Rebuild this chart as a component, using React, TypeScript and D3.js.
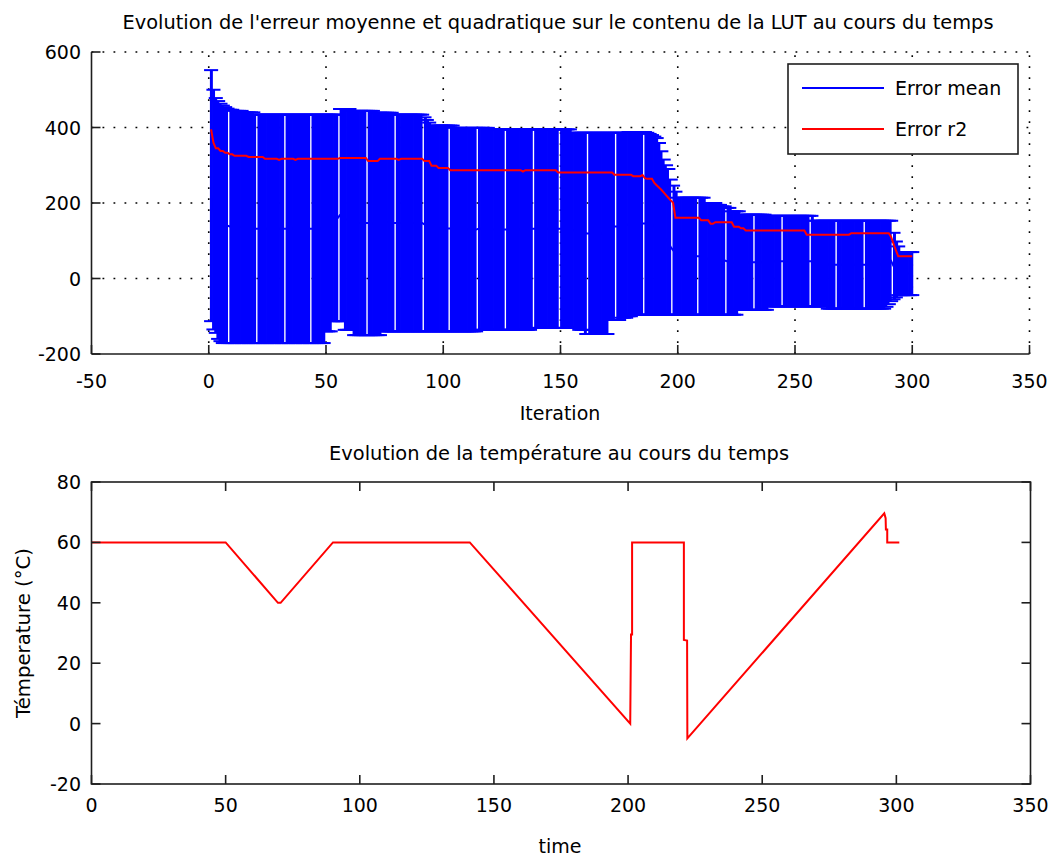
import React from 'react';
import * as d3 from 'd3';

// ---------- DATA ----------
// Error bars: [first iteration of run, value]; a value holds until the next run starts
const upperRuns: [number, number][] = [
  [1, 552], [2, 500], [3, 478], [4, 470], [5, 463], [6, 458], [7, 454], [8, 450], [9, 447],
  [11, 444], [15, 440], [20, 434], [56, 449], [61, 444], [71, 439], [79, 434], [92, 427],
  [93, 420], [94, 413], [95, 405], [105, 399], [120, 395], [155, 386], [179, 388], [187, 386],
  [188, 383], [189, 380], [190, 376], [191, 372], [192, 359], [193, 337], [194, 315], [195, 300],
  [196, 290], [197, 262], [198, 246], [199, 230], [200, 214], [212, 200], [217, 195], [219, 191],
  [221, 187], [223, 178], [227, 169], [238, 166], [258, 153], [292, 121], [293, 98], [294, 85],
  [295, 70],
];
const lowerRuns: [number, number][] = [
  [1, -113], [2, -135], [3, -144], [4, -160], [5, -166], [6, -171], [50, -140], [53, -113],
  [58, -136], [62, -150], [74, -140], [115, -136], [138, -131], [158, -136], [161, -147],
  [171, -110], [176, -104], [179, -100], [181, -96], [226, -83], [239, -74], [264, -80],
  [289, -75], [290, -68], [291, -60], [292, -55], [293, -50], [294, -44],
];
const r2Runs: [number, number][] = [
  [1, 395], [2, 360], [3, 345], [5, 338], [7, 333], [9, 329], [11, 325], [17, 322], [24, 317],
  [30, 314], [31, 317], [37, 314], [38, 317], [56, 319], [68, 311], [73, 317], [81, 314],
  [82, 317], [92, 311], [95, 299], [98, 293], [103, 287], [134, 283], [135, 287], [149, 281],
  [173, 275], [181, 271], [185, 274], [186, 266], [187, 264], [190, 253], [191, 247], [192, 241],
  [193, 235], [194, 228], [195, 221], [196, 214], [197, 207], [198, 201], [199, 161], [210, 154],
  [214, 145], [216, 149], [224, 137], [227, 133], [229, 127], [255, 116], [274, 120], [291, 110],
  [292, 92], [293, 75], [294, 59],
];
const iterationCount = 300;

const topXTicks = [-50, 0, 50, 100, 150, 200, 250, 300, 350];
const topYTicks = [-200, 0, 200, 400, 600];

// Temperature curve vertices
const timeValues = [0, 50, 69.5, 70.5, 90, 141, 200.8, 201.1, 201.5, 201.5, 220.8, 220.8, 222.0, 222.1,
  295.5, 296.0, 296.1, 296.6, 296.6, 301.1];
const temperatureValues = [60, 60, 40, 40, 60, 60, 0, 29.5, 29.5, 60, 60, 27.7, 27.5, -4.9,
  69.6, 68, 64.3, 64.3, 60, 60];
const bottomXTicks = [0, 50, 100, 150, 200, 250, 300, 350];
const bottomYTicks = [-20, 0, 20, 40, 60, 80];

const titleTop = "Evolution de l'erreur moyenne et quadratique sur le contenu de la LUT au cours du temps";
const titleBottom = 'Evolution de la température au cours du temps';

// ---------- helpers ----------
function expandRuns(runs: [number, number][], n: number): number[] {
  const out: number[] = [];
  let k = 0;
  for (let i = 1; i <= n; i++) {
    while (k + 1 < runs.length && runs[k + 1][0] <= i) k++;
    out.push(runs[k][1]);
  }
  return out;
}

const FONT = 'DejaVu Sans';
const FS = 19;
const AX = '#1e1e1e';

export default function App() {
  const iters = d3.range(1, iterationCount + 1);
  const upper = expandRuns(upperRuns, iterationCount);
  const lower = expandRuns(lowerRuns, iterationCount);
  const r2 = expandRuns(r2Runs, iterationCount);
  const mean = iters.map((_, i) => (upper[i] + lower[i]) / 2);

  // top axes
  const tL = 91.5, tR = 1029.5, tT = 52, tB = 354;
  const xT = d3.scaleLinear().domain([-50, 350]).range([tL, tR]);
  const yT = d3.scaleLinear().domain([-200, 600]).range([tB, tT]);

  // bottom axes
  const bL = 91.5, bR = 1030.5, bT = 482, bB = 784;
  const xB = d3.scaleLinear().domain([0, 350]).range([bL, bR]);
  const yB = d3.scaleLinear().domain([-20, 80]).range([bB, bT]);

  // raster emulation of the original (small) render: each bar occupies one source pixel column
  const P = 1.0848, PHI = 0.28;
  const capHalf = 3;

  const meanLine = d3.line<number>().x((_, i) => xT(iters[i])).y((d) => yT(d))(mean) || '';
  const r2Line = d3.line<number>().x((_, i) => xT(iters[i])).y((d) => yT(d))(r2) || '';
  const tempLine = d3.line<number>().x((_, i) => xB(timeValues[i])).y((d) => yB(d))(temperatureValues) || '';

  const tick = 9;

  return (
    <svg width={1051} height={858} style={{ position: 'absolute', left: 0, top: 0, background: '#fff' }}
      fontFamily={FONT} fontSize={FS}>
      <rect x={0} y={0} width={1051} height={858} fill="#fff" />
      {/* ---------- TOP PLOT ---------- */}
      <text x={558} y={29} textAnchor="middle" textLength={871} lengthAdjust="spacingAndGlyphs">{titleTop}</text>
      {/* grid */}
      <g stroke="#000" strokeWidth={1.6} strokeDasharray="1.8 9.2">
        {topXTicks.filter((t) => t !== -50).map((t) => (
          <line key={'gx' + t} x1={xT(t)} x2={xT(t)} y1={tB} y2={tT} />
        ))}
        {topYTicks.filter((t) => t !== -200).map((t) => (
          <line key={'gy' + t} x1={tL} x2={tR} y1={yT(t)} y2={yT(t)} />
        ))}
      </g>
      {/* error bars */}
      <g fill="#0000ff">
        {iters.map((it, i) => {
          const c = Math.floor(P * it + PHI);
          const x0 = xT((c - PHI) / P) - 0.4;
          const x1 = xT((c + 1 - PHI) / P) + 0.4;
          return <rect key={'b' + it} x={x0} width={x1 - x0} y={yT(upper[i])} height={yT(lower[i]) - yT(upper[i])} />;
        })}
      </g>
      <g stroke="#0000ff" strokeWidth={2}>
        {iters.map((it, i) => (
          <g key={'c' + it}>
            <line x1={xT(it - capHalf)} x2={xT(it + capHalf)} y1={yT(upper[i])} y2={yT(upper[i])} />
            <line x1={xT(it - capHalf)} x2={xT(it + capHalf)} y1={yT(lower[i])} y2={yT(lower[i])} />
          </g>
        ))}
      </g>
      <path d={meanLine} fill="none" stroke="#0000ff" strokeWidth={2} />
      <path d={r2Line} fill="none" stroke="#ff0000" strokeWidth={2} />
      {/* axes */}
      <g stroke={AX} strokeWidth={1.6} fill="none">
        <line x1={tL} x2={tL} y1={tT} y2={tB} />
        <line x1={tL} x2={tR} y1={tB} y2={tB} />
        {topXTicks.map((t) => <line key={'tx' + t} x1={xT(t)} x2={xT(t)} y1={tB} y2={tB - tick} />)}
        {topYTicks.map((t) => <line key={'ty' + t} x1={tL} x2={tL + tick} y1={yT(t)} y2={yT(t)} />)}
      </g>
      <g fill="#000">
        {topXTicks.map((t) => <text key={'lx' + t} x={xT(t)} y={388} textAnchor="middle">{t}</text>)}
        {topYTicks.map((t) => <text key={'ly' + t} x={81} y={yT(t) + 7} textAnchor="end">{t}</text>)}
      </g>
      <text x={560} y={420} textAnchor="middle">Iteration</text>
      {/* legend */}
      <rect x={788} y={64} width={230} height={90} fill="#fff" stroke={AX} strokeWidth={1.6} />
      <line x1={802} x2={884} y1={88} y2={88} stroke="#0000ff" strokeWidth={2} />
      <line x1={802} x2={884} y1={129} y2={129} stroke="#ff0000" strokeWidth={2} />
      <text x={895} y={95}>Error mean</text>
      <text x={895} y={136}>Error r2</text>

      {/* ---------- BOTTOM PLOT ---------- */}
      <text x={559} y={460} textAnchor="middle" textLength={460} lengthAdjust="spacingAndGlyphs">{titleBottom}</text>
      <path d={tempLine} fill="none" stroke="#ff0000" strokeWidth={2} />
      <g stroke={AX} strokeWidth={1.6} fill="none">
        <rect x={bL} y={bT} width={bR - bL} height={bB - bT} />
        {bottomXTicks.map((t) => (
          <g key={'bx' + t}>
            <line x1={xB(t)} x2={xB(t)} y1={bB} y2={bB - tick} />
            <line x1={xB(t)} x2={xB(t)} y1={bT} y2={bT + tick} />
          </g>
        ))}
        {bottomYTicks.map((t) => (
          <g key={'by' + t}>
            <line x1={bL} x2={bL + tick} y1={yB(t)} y2={yB(t)} />
            <line x1={bR} x2={bR - tick} y1={yB(t)} y2={yB(t)} />
          </g>
        ))}
      </g>
      <g fill="#000">
        {bottomXTicks.map((t) => <text key={'blx' + t} x={xB(t)} y={812} textAnchor="middle">{t}</text>)}
        {bottomYTicks.map((t) => <text key={'bly' + t} x={81} y={yB(t) + 7} textAnchor="end">{t}</text>)}
      </g>
      <text x={560} y={853} textAnchor="middle">time</text>
      <text transform="translate(29.5,633) rotate(-90)" textAnchor="middle" textLength={170} lengthAdjust="spacingAndGlyphs">Témperature (°C)</text>
    </svg>
  );
}
